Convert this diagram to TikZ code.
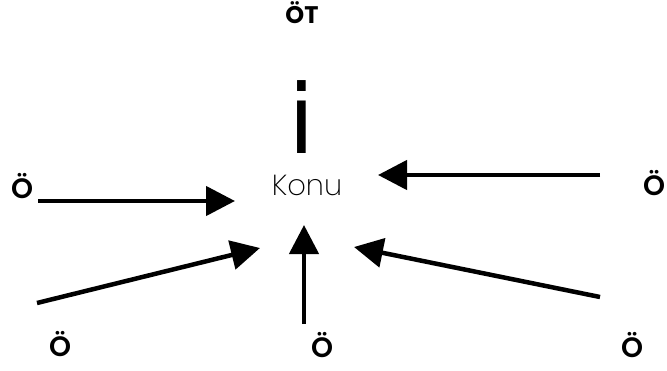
\documentclass[tikz,border=0pt]{standalone}
\usepackage{fontspec}
\setmainfont{Poppins}
\newfontfamily\ifont{DejaVu Sans}
\newfontfamily\konufont{Poppins}[UprightFont={* ExtraLight}]
\newfontfamily\ofont{Poppins}[UprightFont={* SemiBold}]
\newfontfamily\otfont{Poppins}[UprightFont={* Bold}]
\usetikzlibrary{arrows.meta}
\tikzset{
  lbl/.style={inner sep=0pt, anchor=base, font=\ofont\fontsize{28}{28}\selectfont},
  arr/.style={line width=4.5pt, -{Triangle[length=29pt,width=29pt]}},
}
\begin{document}
\begin{tikzpicture}[x=1pt,y=-1pt]
\useasboundingbox (0,0) rectangle (667,370);
% texts
\node[inner sep=0pt, anchor=base, font=\otfont\fontsize{24}{24}\selectfont] (ot) at (302,23) {ÖT};
\node[inner sep=0pt, anchor=base, font=\ifont\fontsize{96}{96}\selectfont] (ibig) at (302,153) {i};
\node[inner sep=0pt, anchor=base, font=\konufont\fontsize{29}{29}\selectfont] (konu) at (307,195) {Konu};
\node[lbl] (ol) at (22,198) {Ö};
\node[lbl] (or) at (654,195) {Ö};
\node[lbl] (obl) at (60,356) {Ö};
\node[lbl] (obc) at (322,357) {Ö};
\node[lbl] (obr) at (632,357) {Ö};
% arrow end points
\coordinate (s1) at (38,201);  \coordinate (t1) at (235,201);
\coordinate (s2) at (37,303);  \coordinate (t2) at (260,248);
\coordinate (s3) at (600,175); \coordinate (t3) at (378,175);
\coordinate (s4) at (600,297); \coordinate (t4) at (354,247);
\coordinate (s5) at (304,324); \coordinate (t5) at (304,225);
\draw[arr] (s1) -- (t1);
\draw[arr] (s2) -- (t2);
\draw[arr] (s3) -- (t3);
\draw[arr] (s4) -- (t4);
\draw[arr] (s5) -- (t5);
\end{tikzpicture}
\end{document}
